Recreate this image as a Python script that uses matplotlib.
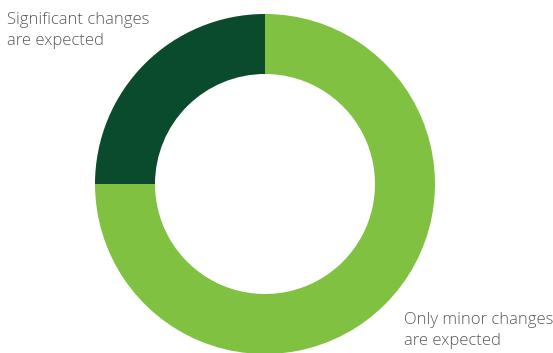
import matplotlib
matplotlib.use("Agg")
from matplotlib import pyplot as plt

CATEGORIAS = ["Significant changes\nare expected", "Only minor changes\nare expected"]
VALORES = [25, 75]
COLORES = ["#0a4a2d", "#80c142"]

fig = plt.figure(figsize=(5.53, 3.53), dpi=100)
ax = fig.add_axes([0, 0, 1, 1])

ax.pie(VALORES, colors=COLORES, startangle=90, counterclock=True,
       radius=170, center=(265, 169),
       wedgeprops=dict(width=60, linewidth=0))

ax.set_xlim(0, 553)
ax.set_ylim(0, 353)
ax.set_aspect("equal")
ax.axis("off")

estilo = dict(fontsize=12, color="#595959", family=["Open Sans", "DejaVu Sans"],
              weight="light", linespacing=1.4, va="baseline", ha="left")
ax.text(7, 353 - 45, CATEGORIAS[0], **estilo)
ax.text(404, 353 - 345, CATEGORIAS[1], **estilo)

fig.savefig("out.png", dpi=100)
